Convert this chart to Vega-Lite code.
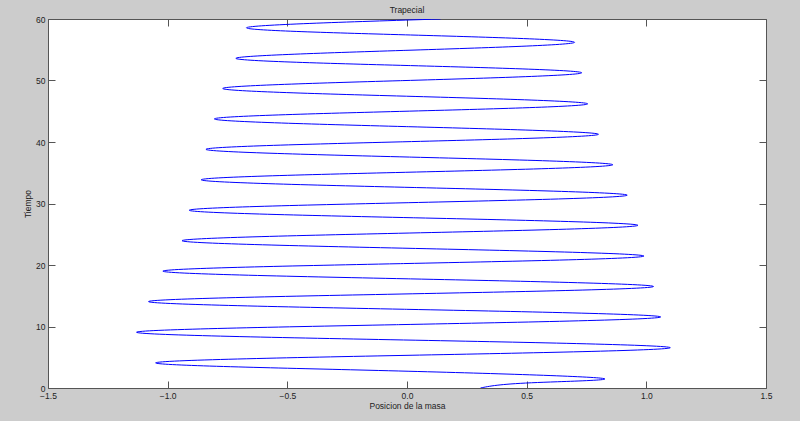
{
  "$schema": "https://vega.github.io/schema/vega-lite/v6.json",
  "width": 718,
  "height": 369,
  "autosize": {"type": "none"},
  "padding": {"left": 48, "top": 19, "right": 34, "bottom": 33},
  "background": "#cccccc",
  "title": {"text": "Trapecial", "font": "Liberation Sans", "fontSize": 8.5, "fontWeight": "normal", "color": "#222222", "anchor": "middle", "offset": 1},
  "config": {
    "view": {"fill": "white", "stroke": "#555555", "strokeWidth": 1},
    "axis": {
      "domain": false,
      "grid": false,
      "tickColor": "#555555",
      "tickSize": -7,
      "labelFont": "Liberation Sans",
      "labelFontSize": 8.5,
      "labelColor": "#222222",
      "labelPadding": 10,
      "labelFlush": false,
      "labelOverlap": false,
      "labelBound": false,
      "titleFont": "Liberation Sans",
      "titleFontSize": 8.5,
      "titleFontWeight": "normal",
      "titleColor": "#222222"
    }
  },
  "data": {
    "values": [
      {"t": 0, "pos": 0.307},
      {"t": 0.85, "pos": 0.52},
      {"t": 1.6, "pos": 0.81},
      {"t": 2.85, "pos": -0.12},
      {"t": 4.1, "pos": -1.05},
      {"t": 5.33, "pos": 0.025},
      {"t": 6.56, "pos": 1.1},
      {"t": 7.81, "pos": -0.015},
      {"t": 9.06, "pos": -1.13},
      {"t": 10.3, "pos": -0.035},
      {"t": 11.55, "pos": 1.06},
      {"t": 12.8, "pos": -0.01},
      {"t": 14.05, "pos": -1.08},
      {"t": 15.28, "pos": -0.025},
      {"t": 16.5, "pos": 1.03},
      {"t": 17.75, "pos": 0.005},
      {"t": 19.0, "pos": -1.02},
      {"t": 20.23, "pos": -0.015},
      {"t": 21.45, "pos": 0.99},
      {"t": 22.7, "pos": 0.025},
      {"t": 23.95, "pos": -0.94},
      {"t": 25.2, "pos": 0.012},
      {"t": 26.45, "pos": 0.965},
      {"t": 27.68, "pos": 0.028},
      {"t": 28.9, "pos": -0.91},
      {"t": 30.13, "pos": 0.005},
      {"t": 31.35, "pos": 0.92},
      {"t": 32.6, "pos": 0.03},
      {"t": 33.85, "pos": -0.86},
      {"t": 35.08, "pos": 0.0},
      {"t": 36.3, "pos": 0.86},
      {"t": 37.55, "pos": 0.01},
      {"t": 38.8, "pos": -0.84},
      {"t": 40.03, "pos": -0.02},
      {"t": 41.25, "pos": 0.8},
      {"t": 42.5, "pos": -0.003},
      {"t": 43.75, "pos": -0.805},
      {"t": 44.98, "pos": -0.025},
      {"t": 46.2, "pos": 0.755},
      {"t": 47.45, "pos": -0.008},
      {"t": 48.7, "pos": -0.77},
      {"t": 49.98, "pos": -0.02},
      {"t": 51.25, "pos": 0.73},
      {"t": 52.43, "pos": 0.008},
      {"t": 53.6, "pos": -0.715},
      {"t": 54.9, "pos": -0.008},
      {"t": 56.2, "pos": 0.7},
      {"t": 57.4, "pos": 0.015},
      {"t": 58.6, "pos": -0.67},
      {"t": 60, "pos": 0.14}
    ]
  },
  "layer": [
    {
      "mark": {"type": "line", "color": "#0000ff", "strokeWidth": 1, "interpolate": "natural", "clip": true},
      "encoding": {
        "x": {"field": "pos", "type": "quantitative", "scale": {"domain": [-1.5, 1.5], "nice": false, "zero": false},
              "axis": {"orient": "bottom", "values": [-1.5, -1, -0.5, 0, 0.5, 1, 1.5], "title": "Posicion de la masa", "titlePadding": 2}},
        "y": {"field": "t", "type": "quantitative", "scale": {"domain": [0, 60], "nice": false, "zero": false},
              "axis": {"orient": "left", "values": [0, 10, 20, 30, 40, 50, 60], "title": "Tiempo", "titlePadding": 3}},
        "order": {"field": "t", "type": "quantitative"}
      }
    },
    {
      "mark": {"type": "line", "opacity": 0},
      "encoding": {
        "x": {"field": "pos", "type": "quantitative", "scale": {"domain": [-1.5, 1.5], "nice": false, "zero": false},
              "axis": {"orient": "top", "values": [-1.5, -1, -0.5, 0, 0.5, 1, 1.5], "labels": false, "title": null}},
        "y": {"field": "t", "type": "quantitative", "scale": {"domain": [0, 60], "nice": false, "zero": false},
              "axis": {"orient": "right", "values": [0, 10, 20, 30, 40, 50, 60], "labels": false, "title": null}},
        "order": {"field": "t", "type": "quantitative"}
      }
    }
  ],
  "resolve": {"scale": {"x": "independent", "y": "independent"}}
}
